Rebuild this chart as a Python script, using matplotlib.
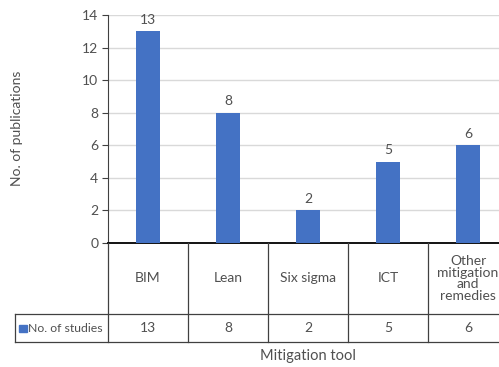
import matplotlib
matplotlib.use("Agg")
import matplotlib.pyplot as plt
from matplotlib.patches import Rectangle
from matplotlib.lines import Line2D
import matplotlib.transforms as mtransforms

categories = ["BIM", "Lean", "Six sigma", "ICT", "Other\nmitigation\nand\nremedies"]
values = [13, 8, 2, 5, 6]
series_name = "No. of studies"
yticks = [0, 2, 4, 6, 8, 10, 12, 14]

BLUE = "#4472C4"
TXT = "#505050"
plt.rcParams['font.family'] = ['Lato', 'DejaVu Sans']

W, H = 499, 367
fig = plt.figure(figsize=(W / 100, H / 100), dpi=100)

def fx(px):
    return px / W

def fy(py):
    return 1 - py / H

ax_left, ax_right, ax_top, ax_bot = 108, 508, 15, 243
ax = fig.add_axes([fx(ax_left), fy(ax_bot), fx(ax_right - ax_left), (ax_bot - ax_top) / H])

x = list(range(len(categories)))
ax.bar(x, values, width=0.31, color=BLUE, zorder=3)
ax.set_xlim(-0.5, len(categories) - 0.5)
ax.set_ylim(0, 14)
ax.set_yticks(yticks)
ax.set_yticklabels([str(t) for t in yticks], fontsize=10, color=TXT)
ax.yaxis.grid(True, color="#d9d9d9", linewidth=1.0, zorder=0)
ax.set_xticks([])
for s in ["top", "right"]:
    ax.spines[s].set_visible(False)
ax.spines["bottom"].set_color("black")
ax.spines["bottom"].set_linewidth(1.3)
ax.spines["left"].set_color("#404040")
ax.spines["left"].set_linewidth(0.8)
ax.tick_params(axis="y", length=4, color="#404040", pad=3)

for xi, v in zip(x, values):
    ax.annotate(str(v), (xi, v), xytext=(0, 4), textcoords="offset points",
                ha="center", va="bottom", fontsize=10, color=TXT, clip_on=False)

fig.text(fx(17), fy(128), "No. of publications", rotation=90, ha="center", va="center",
         fontsize=10, color=TXT)

# table below the axes
row1_bot = 314
row2_bot = 342
tr = mtransforms.blended_transform_factory(ax.transData, fig.transFigure)
lc = "#404040"
lw = 0.9
for b in [i - 0.5 for i in range(len(categories) + 1)]:
    fig.add_artist(Line2D([b, b], [fy(ax_bot), fy(row2_bot)], transform=tr, color=lc, lw=lw, clip_on=False))
for yy in [row1_bot, row2_bot]:
    fig.add_artist(Line2D([fx(15), fx(510)], [fy(yy), fy(yy)], transform=fig.transFigure, color=lc, lw=lw))
fig.add_artist(Line2D([fx(15), fx(15)], [fy(row1_bot), fy(row2_bot)], transform=fig.transFigure, color=lc, lw=lw))

for xi, c, v in zip(x, categories, values):
    fig.text(xi, fy((ax_bot + row1_bot) / 2), c, transform=tr, ha="center", va="center",
             fontsize=10, color=TXT, linespacing=0.95)
    fig.text(xi, fy((row1_bot + row2_bot) / 2), str(v), transform=tr, ha="center", va="center",
             fontsize=10, color=TXT)

fig.add_artist(Rectangle((fx(19), fy(332)), fx(8), 7 / H, transform=fig.transFigure, color=BLUE))
fig.text(fx(28), fy((row1_bot + row2_bot) / 2), series_name, ha="left", va="center", fontsize=8.8, color=TXT)

fig.text(fx(308), fy(356), "Mitigation tool", ha="center", va="center", fontsize=10.5, color=TXT)

fig.savefig("out.png", dpi=100)
